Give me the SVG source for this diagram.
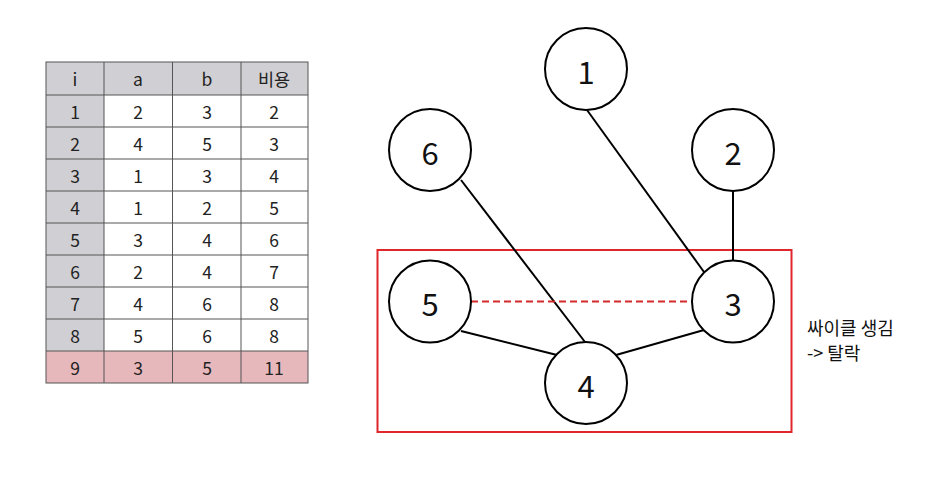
<svg xmlns="http://www.w3.org/2000/svg" width="936" height="478" viewBox="0 0 936 478">
<style>
.t{font-family:"Noto Sans CJK KR","Noto Sans",sans-serif;font-size:17.5px;fill:#222;text-anchor:middle;dominant-baseline:central}
.n{font-family:"Noto Sans CJK KR","Noto Sans",sans-serif;font-size:31px;fill:#111;text-anchor:middle;dominant-baseline:central}
.lbl{font-family:"Noto Sans CJK KR","Noto Sans",sans-serif;font-size:18px;fill:#111}
.g{fill:#d0cfd3}
.p{fill:#e6b8bb}
.grid{stroke:#555;stroke-width:1;fill:none}
circle{fill:#fff;stroke:#000;stroke-width:2}
.e{stroke:#000;stroke-width:2;fill:none}
</style>
<rect width="936" height="478" fill="#fff"/>
<g id="table">
<rect class="g" x="46" y="62" width="262" height="33"/>
<rect class="g" x="46" y="95" width="58" height="256"/>
<rect class="p" x="46" y="351" width="262" height="32"/>
<g class="grid">
<rect x="46" y="62" width="262" height="321"/>
<line x1="104" y1="62" x2="104" y2="383"/>
<line x1="172.5" y1="62" x2="172.5" y2="383"/>
<line x1="241" y1="62" x2="241" y2="383"/>
<line x1="46" y1="95" x2="308" y2="95"/>
<line x1="46" y1="127" x2="308" y2="127"/>
<line x1="46" y1="159" x2="308" y2="159"/>
<line x1="46" y1="191" x2="308" y2="191"/>
<line x1="46" y1="223" x2="308" y2="223"/>
<line x1="46" y1="255" x2="308" y2="255"/>
<line x1="46" y1="287" x2="308" y2="287"/>
<line x1="46" y1="319" x2="308" y2="319"/>
<line x1="46" y1="351" x2="308" y2="351"/>
</g>
<text class="t" x="75" y="78">i</text><text class="t" x="138" y="78">a</text><text class="t" x="207" y="78">b</text><text class="t" x="274" y="78">비용</text>
<text class="t" x="75" y="111">1</text><text class="t" x="138" y="111">2</text><text class="t" x="207" y="111">3</text><text class="t" x="274" y="111">2</text>
<text class="t" x="75" y="143">2</text><text class="t" x="138" y="143">4</text><text class="t" x="207" y="143">5</text><text class="t" x="274" y="143">3</text>
<text class="t" x="75" y="175">3</text><text class="t" x="138" y="175">1</text><text class="t" x="207" y="175">3</text><text class="t" x="274" y="175">4</text>
<text class="t" x="75" y="207">4</text><text class="t" x="138" y="207">1</text><text class="t" x="207" y="207">2</text><text class="t" x="274" y="207">5</text>
<text class="t" x="75" y="239">5</text><text class="t" x="138" y="239">3</text><text class="t" x="207" y="239">4</text><text class="t" x="274" y="239">6</text>
<text class="t" x="75" y="271">6</text><text class="t" x="138" y="271">2</text><text class="t" x="207" y="271">4</text><text class="t" x="274" y="271">7</text>
<text class="t" x="75" y="303">7</text><text class="t" x="138" y="303">4</text><text class="t" x="207" y="303">6</text><text class="t" x="274" y="303">8</text>
<text class="t" x="75" y="335">8</text><text class="t" x="138" y="335">5</text><text class="t" x="207" y="335">6</text><text class="t" x="274" y="335">8</text>
<text class="t" x="75" y="367">9</text><text class="t" x="138" y="367">3</text><text class="t" x="207" y="367">5</text><text class="t" x="274" y="367">11</text>
</g>
<rect id="cycle-box" x="377.5" y="250" width="414" height="182" fill="none" stroke="#e0252b" stroke-width="2"/>
<g id="edges">
<line class="e" x1="587" y1="110" x2="704" y2="272"/>
<line class="e" x1="461" y1="180" x2="585" y2="342"/>
<line class="e" x1="733" y1="191" x2="733" y2="261"/>
<line class="e" x1="461" y1="331" x2="557" y2="355"/>
<line class="e" x1="704" y1="330" x2="616" y2="355"/>
<line x1="471" y1="301.5" x2="692" y2="301.5" stroke="#d42a2a" stroke-width="2" stroke-dasharray="7,4"/>
</g>
<g id="node1"><circle cx="586" cy="69" r="41"/><text class="n" x="586" y="70">1</text></g>
<g id="node6"><circle cx="430" cy="150" r="41"/><text class="n" x="430" y="151">6</text></g>
<g id="node2"><circle cx="733" cy="150" r="41"/><text class="n" x="733" y="151">2</text></g>
<g id="node5"><circle cx="430" cy="301.5" r="41"/><text class="n" x="430" y="302.5">5</text></g>
<g id="node3"><circle cx="733" cy="301.5" r="41"/><text class="n" x="733" y="302.5">3</text></g>
<g id="node4"><circle cx="586" cy="383" r="41"/><text class="n" x="586" y="384">4</text></g>
<g id="label">
<text class="lbl" x="807" y="335">싸이클 생김</text>
<text class="lbl" x="807" y="360">-&gt; 탈락</text>
</g>
</svg>
